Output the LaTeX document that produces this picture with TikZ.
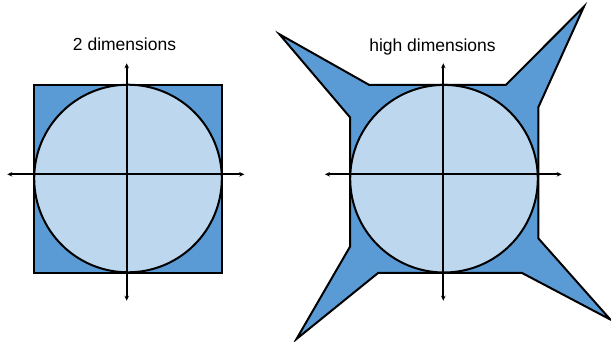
\documentclass[tikz,border=0pt]{standalone}
\usepackage{fontspec}
\setmainfont{Liberation Sans}
\usetikzlibrary{arrows.meta, positioning}
\definecolor{boxBlue}{HTML}{5B9BD5}
\definecolor{ballBlue}{HTML}{BDD7EE}
\tikzset{
  axisline/.style  = {{Stealth[length=5pt,width=4.5pt]}-{Stealth[length=5pt,width=4.5pt]}, line width=1.8pt, black},
  boxfill/.style   = {fill=boxBlue, draw=black, line width=2pt, line join=miter},
  ballfill/.style  = {fill=ballBlue, draw=black, line width=2pt},
  lbl/.style       = {font=\fontsize{17.5}{20}\selectfont, anchor=base, inner sep=0pt},
}

\begin{document}
\begin{tikzpicture}[x=1pt, y=-1pt]
  \useasboundingbox (0,0) rectangle (611,341);

  % left: 2 dimensions
  \draw[boxfill] (34.3,84.5) rectangle (221.7,272.5);
  \draw[ballfill] (128,178.5) circle (93.8);
  \coordinate (lW) at (7.3,174.3);
  \coordinate (lE) at (244.3,174.3);
  \coordinate (lN) at (126.7,63.3);
  \coordinate (lS) at (126.7,300.7);
  \draw[axisline] (lW) -- (lE);
  \draw[axisline] (lN) -- (lS);
  \node[lbl] (twoD) at (124.5,50) {2 dimensions};

  % right: high dimensions
  \draw[boxfill] (369,84.8) -- (506,84.8) -- (584,6.5) -- (538.3,107.3)
    -- (538.3,238.3) -- (610.3,319.5) -- (521.7,272.8) -- (378.3,272.8)
    -- (296.5,339) -- (350,246.7) -- (350,117.3) -- (279.5,34.3) -- cycle;
  \draw[ballfill] (444,178.7) circle (93.8);
  \coordinate (rW) at (325,174.3);
  \coordinate (rE) at (561.7,174.3);
  \coordinate (rN) at (443.3,63.3);
  \coordinate (rS) at (443.3,300.7);
  \draw[axisline] (rW) -- (rE);
  \draw[axisline] (rN) -- (rS);
  \node[lbl] (highD) at (432.5,51) {high dimensions};
\end{tikzpicture}
\end{document}
